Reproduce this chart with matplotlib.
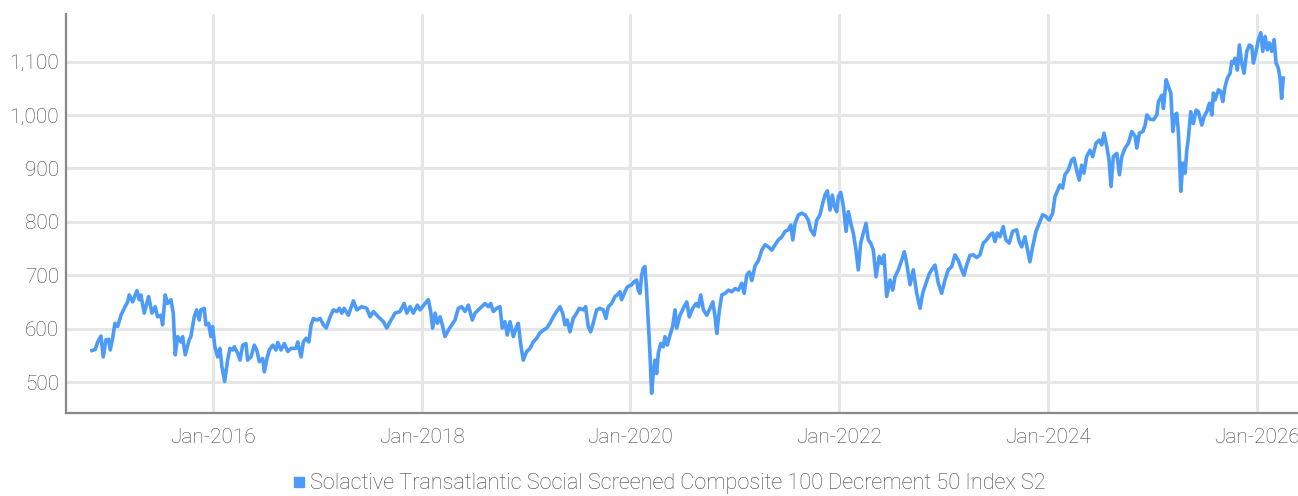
import numpy as np
import pandas as pd
import matplotlib
matplotlib.use("Agg")
import matplotlib.pyplot as plt
import matplotlib.dates as mdates
from matplotlib.lines import Line2D

# ---- data (decimal year, index level) ----
decimal_year = [
    2014.841, 2014.873, 2014.896, 2014.927, 2014.949, 2014.975, 2015.001, 2015.016, 2015.039, 2015.061,
    2015.087, 2015.119, 2015.150, 2015.183, 2015.198, 2015.231, 2015.272, 2015.294, 2015.310, 2015.342,
    2015.384, 2015.416, 2015.447, 2015.470, 2015.502, 2015.518, 2015.543, 2015.566, 2015.598, 2015.620,
    2015.639, 2015.662, 2015.694, 2015.710, 2015.735, 2015.773, 2015.789, 2015.821, 2015.844, 2015.869,
    2015.885, 2015.917, 2015.933, 2015.959, 2015.981, 2015.997, 2016.019, 2016.045, 2016.067, 2016.086,
    2016.112, 2016.141, 2016.163, 2016.189, 2016.204, 2016.237, 2016.259, 2016.285, 2016.316, 2016.332,
    2016.364, 2016.396, 2016.419, 2016.444, 2016.476, 2016.492, 2016.517, 2016.539, 2016.572, 2016.603,
    2016.620, 2016.651, 2016.683, 2016.716, 2016.747, 2016.795, 2016.811, 2016.843, 2016.865, 2016.891,
    2016.917, 2016.939, 2016.961, 2016.993, 2017.025, 2017.057, 2017.083, 2017.121, 2017.152, 2017.185,
    2017.210, 2017.233, 2017.255, 2017.296, 2017.344, 2017.377, 2017.424, 2017.472, 2017.504, 2017.536,
    2017.583, 2017.631, 2017.664, 2017.696, 2017.743, 2017.791, 2017.830, 2017.856, 2017.887, 2017.919,
    2017.957, 2017.983, 2018.031, 2018.062, 2018.085, 2018.104, 2018.127, 2018.149, 2018.175, 2018.200,
    2018.222, 2018.254, 2018.287, 2018.318, 2018.350, 2018.382, 2018.414, 2018.446, 2018.484, 2018.510,
    2018.558, 2018.606, 2018.637, 2018.660, 2018.685, 2018.718, 2018.749, 2018.771, 2018.797, 2018.819,
    2018.845, 2018.877, 2018.903, 2018.925, 2018.947, 2018.972, 2019.005, 2019.037, 2019.068, 2019.101,
    2019.132, 2019.164, 2019.197, 2019.228, 2019.260, 2019.292, 2019.324, 2019.350, 2019.372, 2019.394,
    2019.420, 2019.451, 2019.484, 2019.509, 2019.547, 2019.570, 2019.595, 2019.618, 2019.643, 2019.676,
    2019.707, 2019.739, 2019.765, 2019.787, 2019.819, 2019.851, 2019.873, 2019.899, 2019.915, 2019.947,
    2019.969, 2020.011, 2020.036, 2020.059, 2020.074, 2020.090, 2020.107, 2020.122, 2020.138, 2020.154,
    2020.170, 2020.186, 2020.202, 2020.218, 2020.234, 2020.250, 2020.266, 2020.289, 2020.313, 2020.330,
    2020.352, 2020.378, 2020.403, 2020.426, 2020.442, 2020.473, 2020.505, 2020.538, 2020.562, 2020.595,
    2020.627, 2020.649, 2020.672, 2020.697, 2020.729, 2020.761, 2020.787, 2020.809, 2020.825, 2020.850,
    2020.873, 2020.905, 2020.936, 2020.969, 2021.000, 2021.032, 2021.064, 2021.087, 2021.112, 2021.137,
    2021.160, 2021.192, 2021.223, 2021.256, 2021.288, 2021.319, 2021.352, 2021.384, 2021.415, 2021.448,
    2021.479, 2021.511, 2021.534, 2021.553, 2021.575, 2021.607, 2021.639, 2021.671, 2021.702, 2021.725,
    2021.757, 2021.783, 2021.814, 2021.840, 2021.862, 2021.884, 2021.910, 2021.932, 2021.951, 2021.974,
    2021.990, 2022.013, 2022.038, 2022.064, 2022.086, 2022.109, 2022.133, 2022.159, 2022.181, 2022.204,
    2022.229, 2022.255, 2022.277, 2022.300, 2022.325, 2022.351, 2022.382, 2022.405, 2022.428, 2022.453,
    2022.485, 2022.511, 2022.533, 2022.565, 2022.597, 2022.622, 2022.645, 2022.677, 2022.708, 2022.741,
    2022.773, 2022.798, 2022.830, 2022.862, 2022.894, 2022.916, 2022.948, 2022.980, 2023.012, 2023.043,
    2023.076, 2023.108, 2023.139, 2023.172, 2023.194, 2023.220, 2023.251, 2023.283, 2023.315, 2023.347,
    2023.379, 2023.411, 2023.443, 2023.469, 2023.491, 2023.513, 2023.539, 2023.570, 2023.596, 2023.628,
    2023.660, 2023.699, 2023.724, 2023.747, 2023.778, 2023.804, 2023.826, 2023.852, 2023.884, 2023.915,
    2023.948, 2023.979, 2024.011, 2024.044, 2024.066, 2024.088, 2024.113, 2024.139, 2024.161, 2024.193,
    2024.226, 2024.248, 2024.273, 2024.298, 2024.321, 2024.343, 2024.369, 2024.401, 2024.427, 2024.458,
    2024.490, 2024.513, 2024.535, 2024.561, 2024.583, 2024.602, 2024.624, 2024.657, 2024.682, 2024.705,
    2024.736, 2024.768, 2024.800, 2024.832, 2024.848, 2024.873, 2024.906, 2024.928, 2024.944, 2024.976,
    2025.007, 2025.040, 2025.055, 2025.088, 2025.103, 2025.129, 2025.151, 2025.174, 2025.193, 2025.215,
    2025.231, 2025.247, 2025.270, 2025.289, 2025.311, 2025.327, 2025.342, 2025.365, 2025.390, 2025.416,
    2025.438, 2025.471, 2025.493, 2025.519, 2025.544, 2025.567, 2025.582, 2025.598, 2025.630, 2025.653,
    2025.672, 2025.694, 2025.716, 2025.742, 2025.758, 2025.773, 2025.790, 2025.812, 2025.831, 2025.854,
    2025.876, 2025.902, 2025.927, 2025.950, 2025.965, 2025.991, 2026.013, 2026.036, 2026.055, 2026.077,
    2026.099, 2026.118, 2026.141, 2026.164, 2026.183, 2026.204, 2026.221, 2026.236, 2026.252,
]
index_level = [
    559, 561, 575, 586, 547, 579, 580, 560, 582, 610,
    604, 625, 638, 650, 663, 650, 671, 654, 663, 629,
    660, 629, 641, 622, 625, 607, 663, 647, 654, 629,
    551, 585, 575, 585, 551, 579, 585, 622, 635, 616,
    635, 638, 607, 610, 585, 604, 566, 547, 563, 529,
    501, 541, 563, 560, 566, 554, 541, 569, 572, 541,
    547, 569, 560, 538, 544, 519, 544, 560, 569, 560,
    574, 560, 572, 557, 563, 563, 575, 547, 575, 582,
    575, 607, 619, 616, 619, 607, 601, 622, 635, 632,
    638, 629, 638, 625, 652, 635, 641, 638, 622, 632,
    622, 613, 601, 613, 629, 632, 647, 629, 641, 629,
    644, 635, 647, 654, 632, 601, 629, 610, 622, 604,
    585, 597, 607, 616, 638, 641, 632, 644, 616, 629,
    638, 647, 641, 647, 632, 638, 641, 601, 613, 588,
    613, 585, 601, 610, 572, 541, 557, 563, 575, 582,
    592, 597, 601, 610, 622, 632, 641, 629, 607, 616,
    594, 619, 629, 638, 635, 641, 604, 594, 610, 635,
    638, 635, 619, 641, 647, 660, 663, 669, 654, 669,
    678, 682, 688, 691, 672, 666, 700, 713, 716, 672,
    613, 554, 479, 516, 541, 516, 554, 572, 566, 585,
    569, 588, 604, 635, 601, 625, 638, 650, 622, 638,
    647, 641, 663, 635, 625, 638, 650, 622, 591, 635,
    663, 666, 672, 669, 675, 672, 685, 666, 700, 706,
    690, 718, 727, 747, 757, 753, 747, 757, 766, 772,
    782, 785, 794, 766, 797, 813, 816, 813, 803, 785,
    775, 803, 813, 835, 850, 858, 822, 850, 829, 819,
    847, 855, 829, 782, 819, 797, 779, 747, 710, 760,
    779, 797, 766, 760, 747, 697, 735, 722, 738, 660,
    691, 672, 697, 710, 728, 744, 722, 682, 710, 666,
    638, 666, 685, 703, 713, 719, 685, 666, 691, 710,
    716, 738, 728, 710, 700, 719, 737, 738, 733, 738,
    760, 766, 775, 779, 763, 779, 772, 791, 766, 760,
    782, 785, 763, 753, 772, 747, 725, 753, 782, 797,
    813, 810, 803, 816, 847, 857, 869, 863, 888, 897,
    916, 919, 897, 878, 906, 891, 922, 934, 922, 947,
    953, 944, 966, 941, 916, 866, 922, 928, 888, 922,
    938, 947, 969, 960, 938, 966, 969, 981, 1000, 992,
    991, 1000, 1025, 1037, 1012, 1066, 1053, 1041, 969, 1000,
    1003, 966, 857, 910, 891, 934, 956, 1006, 984, 1009,
    1006, 981, 997, 1006, 1022, 1000, 1041, 1028, 1047, 1044,
    1025, 1053, 1069, 1078, 1100, 1097, 1106, 1084, 1131, 1097,
    1078, 1119, 1131, 1128, 1097, 1119, 1141, 1154, 1119, 1147,
    1122, 1135, 1119, 1141, 1097, 1088, 1069, 1031, 1069,
]
series_name = "Solactive Transatlantic Social Screened Composite 100 Decrement 50 Index S2"
y_ticks = [500, 600, 700, 800, 900, 1000, 1100]
x_tick_years = [2016, 2018, 2020, 2022, 2024, 2026]


def to_datetime(dec):
    out = []
    for d in dec:
        yr = int(np.floor(d))
        start = pd.Timestamp(year=yr, month=1, day=1)
        end = pd.Timestamp(year=yr + 1, month=1, day=1)
        out.append(start + (end - start) * (d - yr))
    return pd.DatetimeIndex(out)


dates = to_datetime(decimal_year)

plt.rcParams['font.family'] = ['Roboto', 'DejaVu Sans']
line_color = '#4D9BF8'
text_color = '#444444'
font_size = 15

fig = plt.figure(figsize=(12.98, 4.96), dpi=100)
ax = fig.add_axes([66 / 1298, 1 - 413 / 496, 1 - 66 / 1298, (413 - 14) / 496])

ax.plot(dates, index_level, color=line_color, linewidth=2.6, solid_joinstyle='round')

ax.set_xlim(to_datetime([2014.592])[0], to_datetime([2026.393])[0])
ax.set_ylim(442, 1189)

ax.set_yticks(y_ticks)
ax.yaxis.set_major_formatter(matplotlib.ticker.FuncFormatter(lambda v, p: f"{int(v):,}"))
ax.set_xticks([pd.Timestamp(year=y, month=1, day=1) for y in x_tick_years])
ax.xaxis.set_major_formatter(mdates.DateFormatter('%b-%Y'))

ax.grid(True, color='#e6e6e6', linewidth=2.2)
ax.set_axisbelow(True)
for s in ['top', 'right']:
    ax.spines[s].set_visible(False)
for s in ['left', 'bottom']:
    ax.spines[s].set_color('#888888')
    ax.spines[s].set_linewidth(1.6)

ax.tick_params(axis='both', length=0, labelsize=font_size, labelcolor=text_color)
ax.tick_params(axis='y', pad=5)
ax.tick_params(axis='x', pad=11)
for lab in ax.get_xticklabels() + ax.get_yticklabels():
    lab.set_fontweight('light')

handle = Line2D([], [], marker='s', color=line_color, linestyle='none', markersize=7)
leg = fig.legend([handle], [series_name], loc='center', bbox_to_anchor=(669 / 1298, 1 - 484 / 496),
                 frameon=False, handlelength=0.6, handletextpad=0.2, borderpad=0,
                 prop={'size': 15.6, 'weight': 'light'})
for t in leg.get_texts():
    t.set_color(text_color)

fig.savefig('out.png', dpi=100)
